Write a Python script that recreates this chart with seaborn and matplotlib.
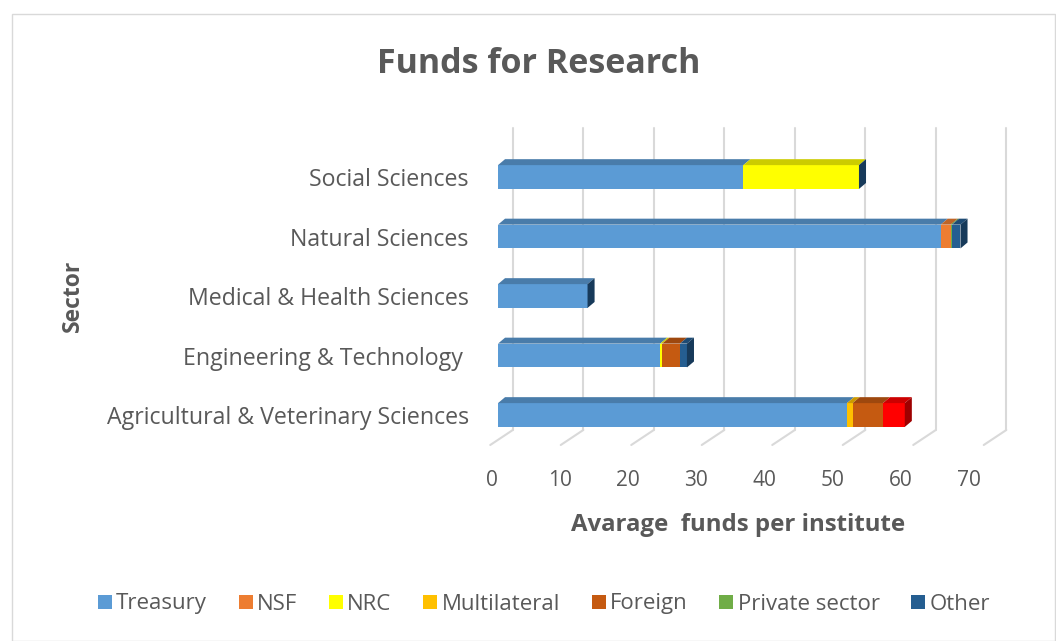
import numpy as np
import matplotlib
matplotlib.use("Agg")
import matplotlib.pyplot as plt
from matplotlib.patches import Polygon, Rectangle
from matplotlib.lines import Line2D
from matplotlib.transforms import ScaledTranslation
import seaborn as sns

sns.set_theme(style="white")
plt.rcParams["font.family"] = ["Open Sans", "DejaVu Sans"]

# ---- data (top to bottom as drawn) ----
sectors = ["Social Sciences", "Natural Sciences", "Medical & Health Sciences",
           "Engineering & Technology ", "Agricultural & Veterinary Sciences"]
series = ["Treasury", "NSF", "NRC", "Multilateral", "Foreign", "Private sector", "Other"]
treasury = [34.8, 62.8, 12.7, 23.0, 49.5]
nsf = [0.0, 1.4, 0.0, 0.0, 0.0]
nrc = [16.4, 0.0, 0.0, 0.3, 0.0]
multilateral = [0.0, 0.0, 0.0, 0.0, 0.8]
foreign = [0.0, 0.0, 0.0, 2.5, 4.3]
private_sector = [0.0, 0.2, 0.0, 0.0, 0.0]
other = [0.0, 1.2, 0.0, 1.0, 3.1]
xticks = [0, 10, 20, 30, 40, 50, 60, 70]

colors = ["#5B9BD5", "#ED7D31", "#FFFF00", "#FFC000", "#C55A11", "#70AD47", "#255E91"]
# the Agricultural "Other" segment is coloured red in the original
other_override = {"Agricultural & Veterinary Sciences": "#FF0000"}

values = np.array([treasury, nsf, nrc, multilateral, foreign, private_sector, other])
cum = np.cumsum(values, axis=0)

def shade(c, f):
    r, g, b = matplotlib.colors.to_rgb(c)
    return (r * f, g * f, b * f)

fig = plt.figure(figsize=(10.56, 6.41), dpi=100)
ax = fig.add_axes([498 / 1056, 1 - 445 / 641, (991.5 - 498) / 1056, (445 - 128) / 641])

h = 0.4
# stacked bars: draw cumulative totals from the outermost inwards
for i in range(len(series) - 1, -1, -1):
    pal = {s: colors[i] for s in sectors}
    if series[i] == "Other":
        pal.update(other_override)
    sns.barplot(x=cum[i], y=sectors, hue=sectors, palette=pal, order=sectors,
                width=h, orient="h", legend=False, linewidth=0, saturation=1, ax=ax)

# 3D-ish top faces and end caps
dx, dy = 1.0, 0.1
for j, s in enumerate(sectors):
    top = j - h / 2
    start = 0.0
    for i in range(len(series)):
        v = values[i, j]
        if v <= 0:
            continue
        c = colors[i]
        if series[i] == "Other" and s in other_override:
            c = other_override[s]
        end = start + v
        ax.add_patch(Polygon([(start, top), (end, top), (end + dx, top - dy), (start + dx, top - dy)],
                             closed=True, facecolor=shade(c, 0.8), lw=0, zorder=3))
        start = end
    cap = other_override.get(s, colors[-1])
    ax.add_patch(Polygon([(start, top), (start + dx, top - dy), (start + dx, top + h - dy), (start, top + h)],
                         closed=True, facecolor=shade(cap, 0.62), lw=0, zorder=3))

# back-wall gridlines and floor lines
ytop, yback, ybot = -0.824, 4.252, 4.504
for v in xticks:
    ax.plot([v + 2.1, v + 2.1], [ytop, yback], color="#D9D9D9", lw=1.5, zorder=0, clip_on=False)
    ax.plot([v + 2.1, v - 1.1], [yback, ybot], color="#D9D9D9", lw=1.5, zorder=0, clip_on=False)

ax.set_xlim(0, 70)
ax.set_ylim(ybot, ytop)
ax.set_xticks(xticks)
ax.set_xticklabels([str(v) for v in xticks])
for sp in ax.spines.values():
    sp.set_visible(False)
ax.tick_params(axis="x", length=0, pad=18, labelsize=15, labelcolor="#595959")
ax.tick_params(axis="y", length=0, pad=21, labelsize=16.7, labelcolor="#595959")
# tick labels sit slightly left of the front plane (perspective)
for v, lbl in zip(xticks, ax.get_xticklabels()):
    shift = (-6 - 0.236 * v) / 100
    lbl.set_transform(lbl.get_transform() + ScaledTranslation(shift, 0, fig.dpi_scale_trans))
ax.set_xlabel("")
ax.set_ylabel("")

fig.text(738 / 1056, 1 - 525 / 641, "Avarage  funds per institute", ha="center", va="center",
         fontsize=17.3, fontweight="bold", color="#595959")
fig.text(73 / 1056, 1 - 296 / 641, "Sector", ha="center", va="center", rotation=90,
         fontsize=16.5, fontweight="bold", color="#595959")
fig.text(539 / 1056, 1 - 64 / 641, "Funds for Research", ha="center", va="center",
         fontsize=24.5, fontweight="bold", color="#595959")

handles = [Line2D([0], [0], marker="s", linestyle="", markersize=9.5, markerfacecolor=c,
                  markeredgewidth=0) for c in colors]
fig.legend(handles, series, loc="center", bbox_to_anchor=(543 / 1056, 1 - 604 / 641), ncol=7,
           frameon=False, fontsize=16, handletextpad=0.1, columnspacing=1.35,
           labelcolor="#595959", handlelength=0.8)

fig.add_artist(Rectangle((12 / 1056, 0), 1 - 13 / 1056, 1 - 14 / 641, transform=fig.transFigure,
                         fill=False, edgecolor="#D9D9D9", lw=1))

fig.savefig("out.png", dpi=100)
